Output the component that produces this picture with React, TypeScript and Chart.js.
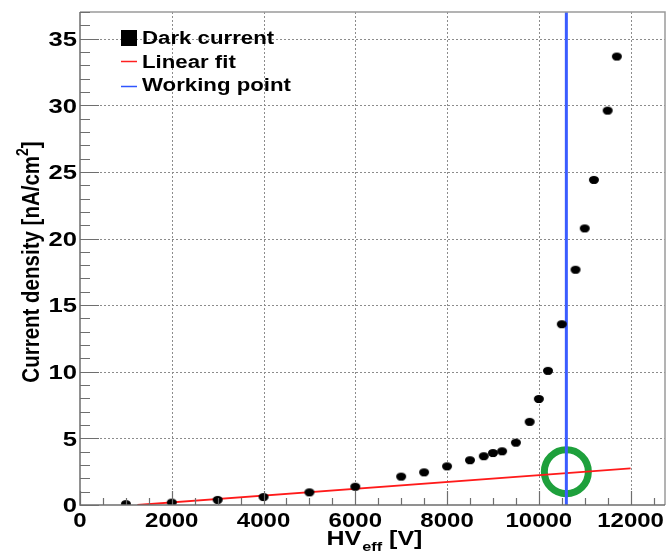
import { useEffect, useRef } from "react";
import { Chart, registerables } from "chart.js";

Chart.register(...registerables);

// Effective high voltage of each scan step [V]
const hvEff = [
  1000, 2000, 3000, 4000, 5000, 6000, 7000, 7500, 8000, 8500, 8800, 9000,
  9200, 9500, 9800, 10000, 10200, 10500, 10800, 11000, 11200, 11500, 11700,
];
// Measured dark current density [nA/cm^2]
const darkCurrent = [
  0.07, 0.18, 0.38, 0.6, 0.95, 1.37, 2.13, 2.45, 2.9, 3.36, 3.66, 3.9, 4.03,
  4.68, 6.24, 7.96, 10.07, 13.57, 17.66, 20.76, 24.4, 29.6, 33.66,
];
// Ohmic part: end points of the linear fit
const fitHv = [1250, 12000];
const fitCurrent = [0, 2.75];
// Chosen working point and the highlighted spot on the fit
const workingPointHv = 10600;
const highlightCurrent = 2.5;

// Axes
const X_MIN = 0;
const X_MAX = 12750;
const Y_MIN = 0;
const Y_MAX = 37;
const xTicks = [0, 2000, 4000, 6000, 8000, 10000, 12000];
const yTicks = [0, 5, 10, 15, 20, 25, 30, 35];
const X_MINOR = 500;
const Y_MINOR = 1;

const FONT = '"Liberation Sans", Arial, Helvetica, sans-serif';

function wideText(
  ctx: CanvasRenderingContext2D,
  text: string,
  x: number,
  y: number,
  size: number,
  align: "left" | "center" | "right",
  sx: number
): number {
  ctx.save();
  ctx.font = `bold ${size}px ${FONT}`;
  const w = ctx.measureText(text).width * sx;
  let x0 = x;
  if (align === "center") x0 = x - w / 2;
  else if (align === "right") x0 = x - w;
  ctx.translate(x0, y);
  ctx.scale(sx, 1);
  ctx.textAlign = "left";
  ctx.textBaseline = "alphabetic";
  ctx.fillStyle = "#000";
  ctx.fillText(text, 0, 0);
  ctx.restore();
  return w;
}

function measure(ctx: CanvasRenderingContext2D, text: string, size: number) {
  ctx.save();
  ctx.font = `bold ${size}px ${FONT}`;
  const w = ctx.measureText(text).width;
  ctx.restore();
  return w;
}

function dotImage(): HTMLCanvasElement {
  const c = document.createElement("canvas");
  c.width = 12;
  c.height = 10;
  const g = c.getContext("2d")!;
  g.fillStyle = "#000";
  g.beginPath();
  g.ellipse(6, 5, 5, 4.1, 0, 0, Math.PI * 2);
  g.fill();
  return c;
}

const rootFrame = {
  id: "rootFrame",
  beforeDatasetsDraw(chart: any) {
    const { ctx, chartArea: a, scales } = chart;
    const x = scales.x;
    const y = scales.y;
    ctx.save();
    ctx.strokeStyle = "#8c8c8c";
    ctx.lineWidth = 1;
    ctx.setLineDash([2, 2]);
    ctx.beginPath();
    for (const t of x.ticks) {
      if (t.value === X_MIN) continue;
      const px = Math.round(x.getPixelForValue(t.value)) + 0.5;
      ctx.moveTo(px, a.top);
      ctx.lineTo(px, a.bottom);
    }
    for (const t of y.ticks) {
      if (t.value === Y_MIN) continue;
      const py = Math.round(y.getPixelForValue(t.value)) + 0.5;
      ctx.moveTo(a.left, py);
      ctx.lineTo(a.right, py);
    }
    ctx.stroke();
    ctx.restore();
  },
  afterDatasetsDraw(chart: any) {
    const { ctx, chartArea: a, scales } = chart;
    const x = scales.x;
    const y = scales.y;
    ctx.save();
    // frame
    ctx.strokeStyle = "#9a9a9a";
    ctx.lineWidth = 1.5;
    ctx.beginPath();
    ctx.moveTo(a.left, a.top);
    ctx.lineTo(a.right, a.top);
    ctx.lineTo(a.right, a.bottom);
    ctx.stroke();
    ctx.strokeStyle = "#6e6e6e";
    ctx.lineWidth = 1.5;
    ctx.beginPath();
    ctx.moveTo(a.left, a.top);
    ctx.lineTo(a.left, a.bottom);
    ctx.lineTo(a.right, a.bottom);
    ctx.stroke();
    // inward ticks
    ctx.lineWidth = 1.2;
    ctx.beginPath();
    for (let v = X_MIN; v <= X_MAX; v += X_MINOR) {
      const px = Math.round(x.getPixelForValue(v)) + 0.5;
      const len = xTicks.includes(v) ? 14 : 7;
      ctx.moveTo(px, a.bottom);
      ctx.lineTo(px, a.bottom - len);
    }
    for (let v = Y_MIN; v <= Y_MAX; v += Y_MINOR) {
      const py = Math.round(y.getPixelForValue(v)) + 0.5;
      const len = yTicks.includes(v) ? 19 : 10;
      ctx.moveTo(a.left, py);
      ctx.lineTo(a.left + len, py);
    }
    ctx.stroke();
    ctx.restore();
  },
  afterDraw(chart: any) {
    const { ctx, chartArea: a, scales } = chart;
    const x = scales.x;
    const y = scales.y;
    const SX = 1.2;

    // tick labels
    for (const t of x.ticks) {
      wideText(ctx, String(t.value), x.getPixelForValue(t.value), a.bottom + 22, 20, "center", SX);
    }
    for (const t of y.ticks) {
      wideText(ctx, String(t.value), a.left - 3, y.getPixelForValue(t.value) + 7.3, 20, "right", 1.28);
    }

    // x title: HV_eff [V]
    {
      const big = 20;
      const small = 13;
      const sx = 1.25;
      const w1 = measure(ctx, "HV", big) * sx;
      const w2 = measure(ctx, "eff", small) * sx;
      const w3 = measure(ctx, " [V]", big) * sx;
      const start = 374 - (w1 + w2 + w3) / 2;
      wideText(ctx, "HV", start, 545, big, "left", sx);
      wideText(ctx, "eff", start + w1 + 1, 551, small, "left", sx);
      wideText(ctx, " [V]", start + w1 + w2 + 1, 545, big, "left", sx);
    }

    // y title: Current density [nA/cm^2]
    {
      const big = 20.5;
      const small = 14;
      const s1 = "Current density [nA/cm";
      const s2 = "2";
      const s3 = "]";
      const w1 = measure(ctx, s1, big);
      const w2 = measure(ctx, s2, small);
      const w3 = measure(ctx, s3, big);
      const total = w1 + w2 + w3;
      ctx.save();
      ctx.translate(38.5, 262);
      ctx.scale(1.2, 1);
      ctx.rotate(-Math.PI / 2);
      ctx.fillStyle = "#000";
      ctx.textAlign = "left";
      ctx.textBaseline = "alphabetic";
      const u0 = -total / 2;
      ctx.font = `bold ${big}px ${FONT}`;
      ctx.fillText(s1, u0, 0);
      ctx.font = `bold ${small}px ${FONT}`;
      ctx.fillText(s2, u0 + w1, -9);
      ctx.font = `bold ${big}px ${FONT}`;
      ctx.fillText(s3, u0 + w1 + w2, 0);
      ctx.restore();
    }

    // legend
    ctx.save();
    ctx.fillStyle = "#000";
    ctx.fillRect(121, 30, 16, 16);
    ctx.lineWidth = 1.5;
    ctx.strokeStyle = "#ff2020";
    ctx.beginPath();
    ctx.moveTo(121, 61.5);
    ctx.lineTo(137, 61.5);
    ctx.stroke();
    ctx.strokeStyle = "#2f55ff";
    ctx.beginPath();
    ctx.moveTo(121, 86.5);
    ctx.lineTo(137, 86.5);
    ctx.stroke();
    ctx.restore();
    wideText(ctx, "Dark current", 142, 44, 17.5, "left", 1.27);
    wideText(ctx, "Linear fit", 142, 68, 17.5, "left", 1.27);
    wideText(ctx, "Working point", 142, 91, 17.5, "left", 1.27);
  },
};

export default function App() {
  const ref = useRef<HTMLCanvasElement>(null);

  useEffect(() => {
    const canvas = ref.current!;
    const chart = new Chart(canvas, {
      type: "scatter",
      data: {
        datasets: [
          {
            label: "Dark current",
            data: hvEff.map((v, i) => ({ x: v, y: darkCurrent[i] })),
            pointStyle: dotImage() as any,
            pointRadius: 5,
            showLine: false,
            order: 0,
          },
          {
            label: "Working point",
            data: [
              { x: workingPointHv, y: Y_MIN },
              { x: workingPointHv, y: Y_MAX },
            ],
            showLine: true,
            borderColor: "#3a5cff",
            borderWidth: 3,
            pointRadius: 0,
            order: 1,
          },
          {
            label: "Linear fit",
            data: fitHv.map((v, i) => ({ x: v, y: fitCurrent[i] })),
            showLine: true,
            borderColor: "#ff1a1a",
            borderWidth: 1.8,
            pointRadius: 0,
            order: 2,
          },
          {
            label: "highlight",
            data: [{ x: workingPointHv, y: highlightCurrent }],
            showLine: false,
            pointStyle: "circle",
            pointRadius: 22,
            borderWidth: 7,
            borderColor: "#1ea03c",
            backgroundColor: "rgba(0,0,0,0)",
            order: 3,
            clip: false as any,
          },
        ],
      },
      options: {
        animation: false,
        responsive: false,
        devicePixelRatio: 1,
        events: [],
        layout: { autoPadding: false, padding: { top: 12, right: 2, left: 0, bottom: 0 } },
        plugins: {
          legend: { display: false },
          tooltip: { enabled: false },
        },
        scales: {
          x: {
            type: "linear",
            min: X_MIN,
            max: X_MAX,
            ticks: { display: false },
            grid: { display: false },
            border: { display: false },
            afterBuildTicks: (s: any) => {
              s.ticks = xTicks.map((v) => ({ value: v }));
            },
            afterFit: (s: any) => {
              s.height = 47;
            },
          },
          y: {
            type: "linear",
            min: Y_MIN,
            max: Y_MAX,
            ticks: { display: false },
            grid: { display: false },
            border: { display: false },
            afterBuildTicks: (s: any) => {
              s.ticks = yTicks.map((v) => ({ value: v }));
            },
            afterFit: (s: any) => {
              s.width = 80;
            },
          },
        },
      },
      plugins: [rootFrame],
    });
    return () => chart.destroy();
  }, []);

  return (
    <div
      style={{
        position: "fixed",
        left: 0,
        top: 0,
        width: 667,
        height: 552,
        background: "#fff",
      }}
    >
      <canvas
        ref={ref}
        width={667}
        height={552}
        style={{ display: "block", width: 667, height: 552 }}
      />
    </div>
  );
}
